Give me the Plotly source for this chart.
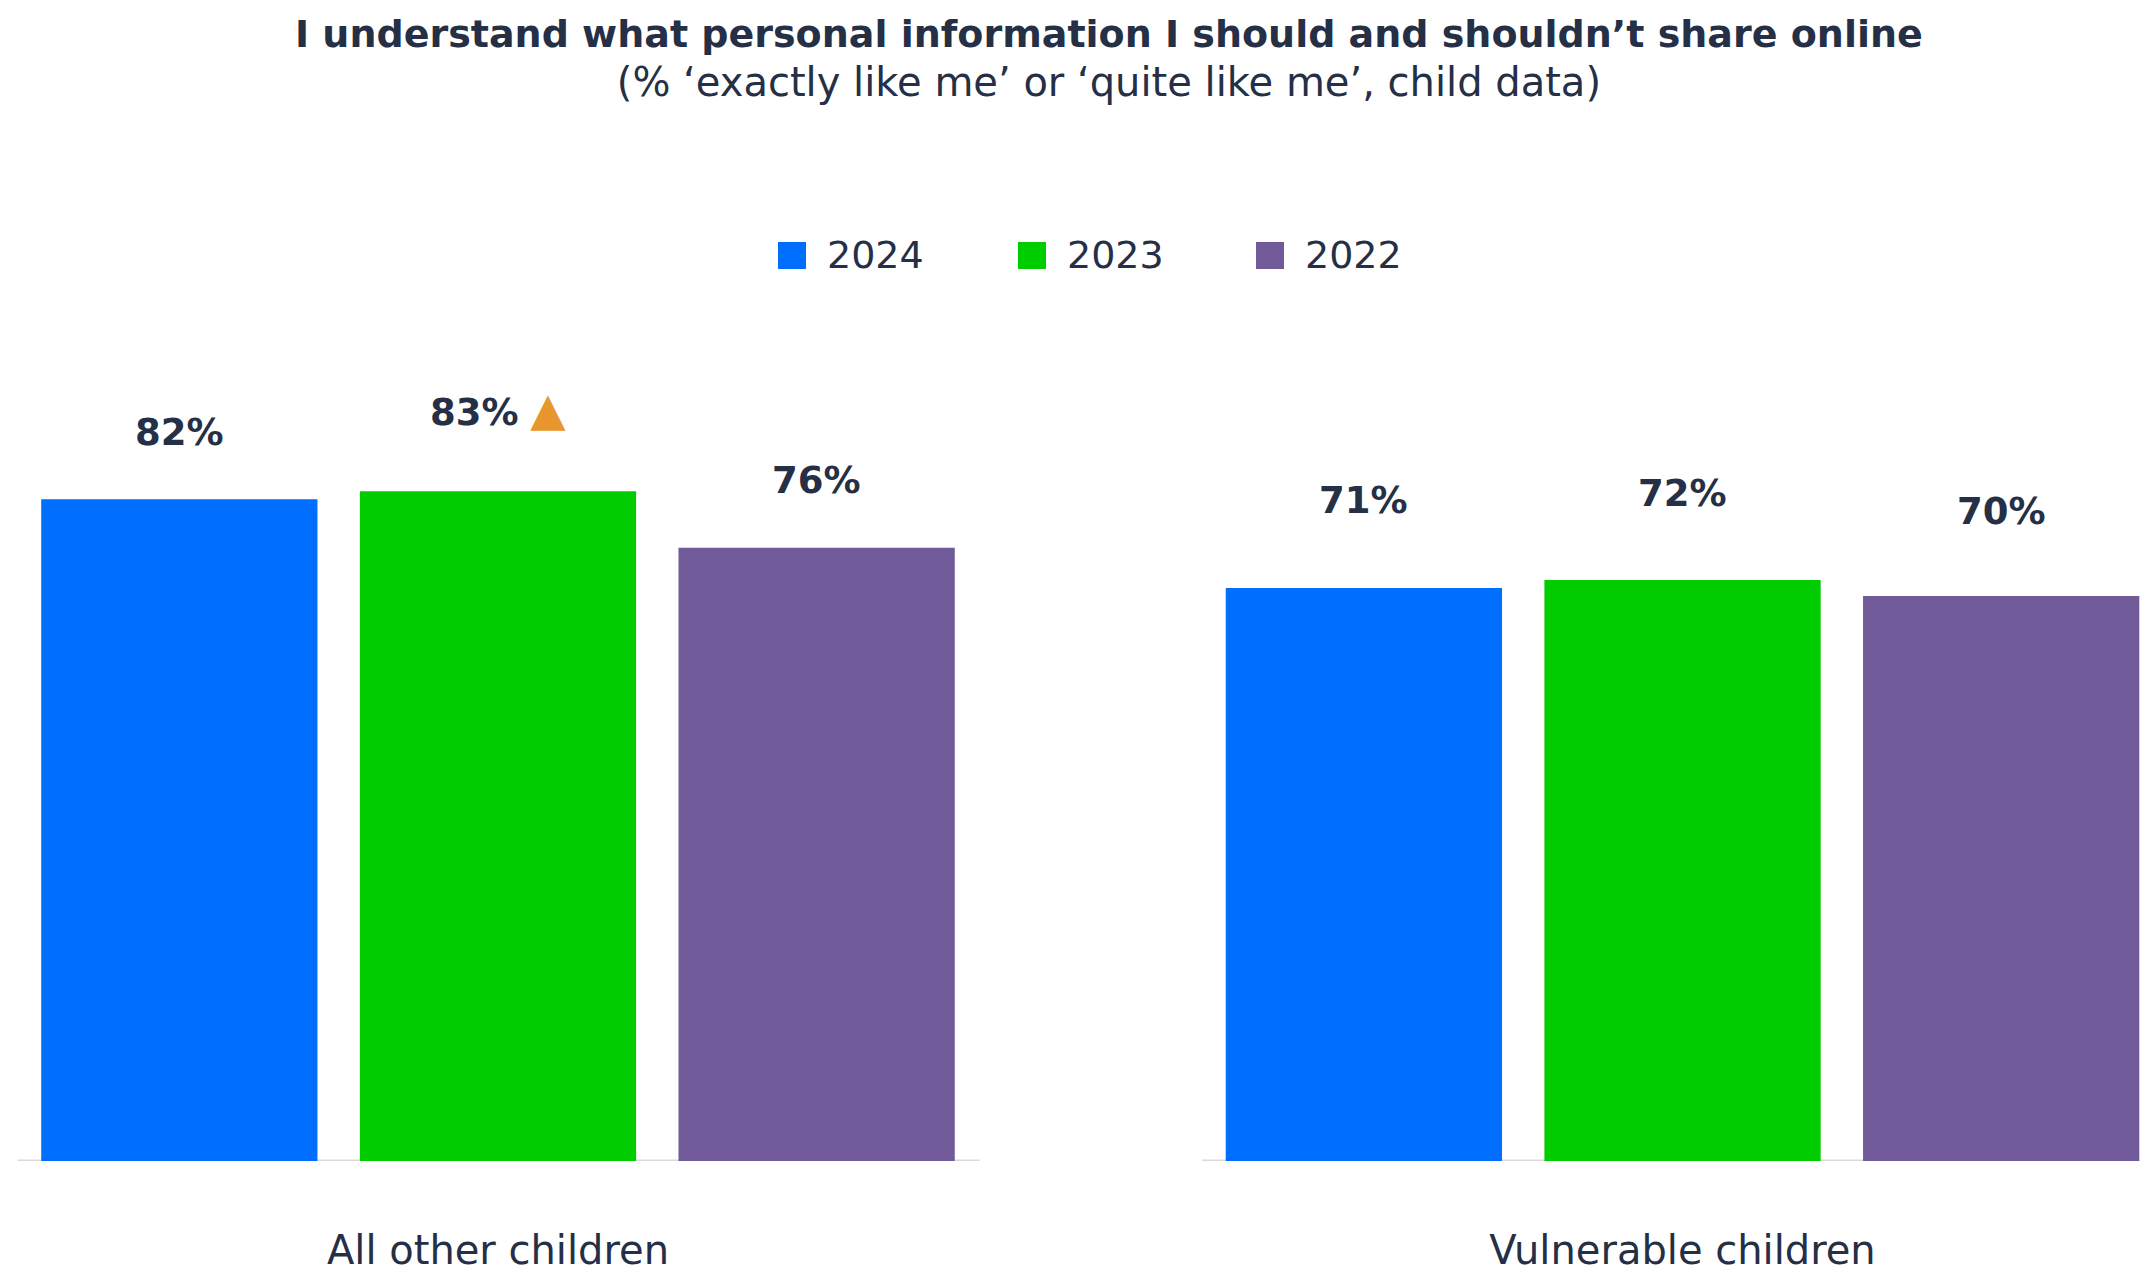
import plotly.graph_objects as go

# ---- data -------------------------------------------------------------
groups = ["All other children", "Vulnerable children"]
years = ["2024", "2023", "2022"]
pct_2024 = [82, 71]
pct_2023 = [83, 72]
pct_2022 = [76, 70]
# significant increase vs previous wave (flagged with an up-triangle)
up_2024 = [False, False]
up_2023 = [True, False]
up_2022 = [False, False]

title = "I understand what personal information I should and shouldn\u2019t share online"
subtitle = "(% \u2018exactly like me\u2019 or \u2018quite like me\u2019, child data)"

# ---- styling ----------------------------------------------------------
colors = ["#006EFF", "#00CC00", "#705A9A"]
ink = "#252F45"
up_color = "#E8962E"
font_family = "DejaVu Sans"
fsize = 38
label_lift = [[67, 88], [82, 86], [67, 85]]  # px from bar top to label centre

W, H = 2140, 1273
BASE_PX, TOP_PX = 1161, 354            # pixel rows of y=0 and y=100
bargap, bargroupgap = 0.193, 0.133
slot = (1 - bargap) / 3


def py(px):
    """pixel row -> paper y"""
    return (BASE_PX - px) / (BASE_PX - TOP_PX)


def pxx(px):
    return px / W


series = [(years[0], pct_2024, up_2024),
          (years[1], pct_2023, up_2023),
          (years[2], pct_2022, up_2022)]

fig = go.Figure()
for i, (name, vals, ups) in enumerate(series):
    fig.add_trace(go.Bar(x=groups, y=vals, name=name,
                         marker=dict(color=colors[i], line=dict(width=0)),
                         showlegend=False, hoverinfo="skip"))
    for j, v in enumerate(vals):
        txt = f"<b>{v}%</b>"
        if ups[j]:
            txt += f' <span style="color:{up_color};font-size:46px">\u25B2</span>'
        fig.add_annotation(x=j + (i - 1) * slot, y=v, xref="x", yref="y",
                           text=txt, showarrow=False, yanchor="middle",
                           yshift=label_lift[i][j],
                           font=dict(family=font_family, size=fsize - 1, color=ink))

# split baselines under each group
for x0, x1 in [(-0.4055, 0.4066), (0.5943, 1.3862)]:
    fig.add_shape(type="line", xref="x", yref="y", x0=x0, x1=x1, y0=0, y1=0,
                  line=dict(color="#D9D9D9", width=3), layer="below")

# legend drawn as swatches + labels
legend_sq = [778, 1018, 1256]
for i, name in enumerate(years):
    fig.add_shape(type="rect", xref="paper", yref="paper",
                  x0=pxx(legend_sq[i]), x1=pxx(legend_sq[i] + 28),
                  y0=py(269), y1=py(242), fillcolor=colors[i], line=dict(width=0))
    fig.add_annotation(x=pxx(legend_sq[i] + 47), y=py(255), xref="paper", yref="paper",
                       text=name, showarrow=False, xanchor="left", yanchor="middle",
                       font=dict(family=font_family, size=fsize, color=ink))

# title block (bold headline + plain sub-line)
fig.add_annotation(x=pxx(1109), y=py(58), xref="paper", yref="paper",
                   text=f"<b>{title}</b><br><span style=\"font-size:40px\">{subtitle}</span>",
                   showarrow=False, yanchor="middle", align="center",
                   font=dict(family=font_family, size=fsize, color=ink))

fig.update_layout(
    width=W, height=H,
    margin=dict(l=0, r=0, t=TOP_PX, b=H - BASE_PX),
    paper_bgcolor="white", plot_bgcolor="white",
    barmode="group", bargap=bargap, bargroupgap=bargroupgap,
    font=dict(family=font_family, color=ink),
)
fig.update_xaxes(range=[-0.4204, 1.3862], showline=False, showgrid=False, zeroline=False,
                 ticks="outside", ticklen=54, tickcolor="rgba(0,0,0,0)",
                 tickfont=dict(family=font_family, size=40, color=ink),
                 automargin=False, fixedrange=True)
fig.update_yaxes(range=[0, 100], visible=False, fixedrange=True)

fig.write_html("out.html")
